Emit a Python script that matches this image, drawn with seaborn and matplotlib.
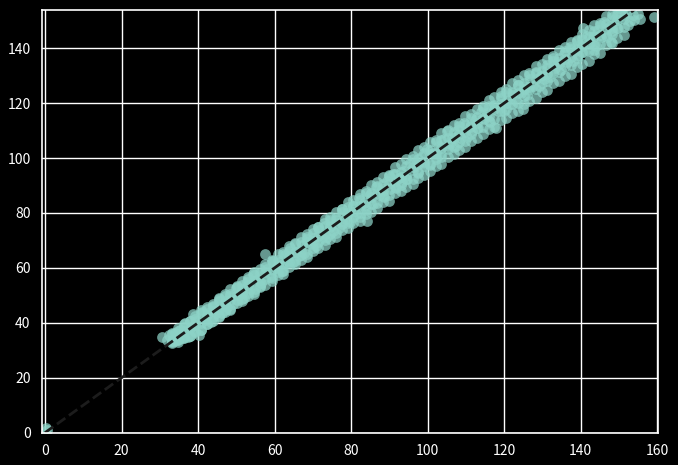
import matplotlib
matplotlib.use("Agg")
import matplotlib.pyplot as plt
import seaborn as sns
import pandas as pd

# actual vs predicted values (scattered points)
actual = [
    0.3, 0.6,
    30.6, 31.8, 32.5, 33.1, 33.9, 34.6, 35.2, 36.0, 36.7, 37.5, 38.2, 38.7,
    39.4, 40.3, 41.0, 41.8, 42.5, 43.3, 44.0, 44.8, 45.5, 46.3, 47.0, 47.6,
    48.4, 49.1, 49.9, 50.6, 51.4, 52.1, 52.9, 53.6, 54.4, 55.0, 55.8, 56.5,
    57.4, 58.1, 58.9, 59.6, 60.4, 61.1, 61.9, 62.6, 63.3, 64.1, 64.8, 65.6,
    66.3, 67.1, 67.8, 68.6, 69.3, 70.1, 70.8, 71.6, 72.3, 73.0, 73.8, 74.5,
    75.3, 76.0, 76.8, 77.5, 78.3, 79.0, 79.8, 80.5, 81.2, 82.0, 82.7, 83.5,
    84.2, 85.0, 85.7, 86.5, 87.2, 88.0, 88.7, 89.4, 90.2, 90.9, 91.7, 92.4,
    93.2, 93.9, 94.7, 95.4, 96.1, 96.9, 97.6, 98.4, 99.1, 99.9, 100.6, 101.4,
    102.1, 102.9, 103.6, 104.3, 105.0, 105.8, 106.5, 107.3, 108.0, 108.8,
    109.5, 110.3, 111.0, 111.7, 112.5, 113.2, 114.0, 114.7, 115.5, 116.2,
    117.0, 117.9, 118.5, 119.2, 120.0, 120.7, 121.5, 122.2, 123.0, 123.7,
    124.4, 124.9, 125.2, 126.0, 126.7, 127.5, 128.2, 129.0, 129.7, 130.5,
    131.2, 131.9, 132.7, 133.4, 134.2, 134.9, 135.7, 136.4, 137.2, 137.9,
    138.6, 139.4, 140.1, 140.5, 140.9, 141.6, 142.4, 143.1, 143.6, 143.9,
    144.6, 145.4, 146.1, 146.8, 147.6, 147.8, 148.3, 149.1, 149.8, 150.6,
    151.3, 152.1, 152.5, 152.8, 153.6, 154.0, 155.0, 155.6, 159.2,
]
predicted = [
    1.6, 0.8,
    34.7, 33.8, 35.7, 33.4, 36.3, 33.8, 37.3, 34.6, 40.0, 34.8, 38.5, 43.3,
    40.8, 35.7, 43.8, 41.2, 43.4, 40.3, 46.1, 43.4, 48.8, 43.6, 47.3, 45.7,
    49.8, 46.8, 52.7, 50.0, 52.3, 49.1, 55.0, 52.2, 57.7, 52.3, 56.1, 54.6,
    65.2, 59.5, 56.6, 62.4, 59.8, 62.0, 58.9, 64.7, 61.9, 67.4, 62.1, 65.9,
    64.4, 68.5, 65.5, 71.4, 68.7, 71.0, 67.8, 73.7, 70.9, 76.3, 71.1, 74.8,
    73.4, 77.4, 74.5, 80.3, 77.7, 79.9, 76.8, 82.6, 79.8, 85.3, 80.0, 83.8,
    77.2, 86.4, 83.4, 89.3, 86.6, 88.9, 85.7, 91.5, 88.8, 94.2, 89.0, 92.7,
    91.3, 95.3, 92.4, 98.2, 95.5, 97.8, 94.6, 100.5, 97.7, 103.2, 97.9, 101.7,
    100.2, 104.3, 101.3, 107.1, 109.7, 105.2, 107.4, 104.3, 110.1, 107.4,
    112.8, 107.6, 111.3, 109.8, 113.9, 110.9, 116.8, 114.1, 116.4, 113.2,
    119.1, 111.1, 117.1, 122.5, 117.3, 121.0, 119.6, 123.6, 120.7, 126.5,
    123.8, 118.0, 126.1, 123.0, 128.8, 126.1, 131.5, 126.3, 130.0, 128.6,
    132.6, 129.6, 135.5, 132.8, 135.1, 131.9, 137.8, 135.0, 140.5, 135.2,
    138.9, 137.5, 141.5, 147.5, 138.6, 144.4, 141.8, 144.0, 139.2, 140.9,
    146.7, 144.0, 149.4, 144.1, 147.9, 142.1, 146.4, 150.5, 147.5, 153.4,
    150.7, 153.0, 148.6, 149.8, 152.2, 150.2, 152.5, 150.8, 151.2,
]

# dense part of the band: one x list, five predicted rows from top to bottom
core_actual = [
    33.2, 34.7, 36.3, 37.8, 39.2, 40.9, 42.4, 43.8, 45.5, 47.0, 48.4, 50.1,
    51.6, 53.0, 54.7, 56.2, 57.6, 59.3, 60.8, 62.2, 63.9, 65.4, 66.8, 68.5,
    70.0, 71.4, 73.1, 74.6, 76.0, 77.7, 79.2, 80.6, 82.3, 83.8, 85.2, 86.9,
    88.4, 89.8, 91.5, 93.0, 94.4, 96.1, 97.6, 99.0, 100.7, 102.2, 103.6, 105.3,
    106.8, 108.2, 109.9, 111.4, 112.8, 114.5, 116.0, 117.4, 119.1, 120.6, 122.0, 123.7,
    125.2, 126.6, 128.3, 129.8, 131.2, 132.9, 134.4, 135.8, 137.5, 139.0, 140.4, 142.1,
    143.6, 145.0, 146.7, 148.2, 149.6, 151.3,
]
outer_upper = [
    36.3, 37.2, 39.7, 40.7, 42.4, 43.5, 45.9, 46.9, 49.0, 49.8, 52.2, 53.3,
    55.2, 55.9, 58.6, 59.7, 61.5, 62.5, 64.9, 65.8, 67.9, 68.7, 71.1, 72.4,
    74.3, 75.0, 77.7, 78.6, 80.4, 81.4, 83.9, 84.9, 87.0, 87.9, 90.2, 91.4,
    93.2, 94.0, 96.6, 97.8, 99.5, 100.6, 103.0, 103.9, 105.9, 106.7, 109.0, 110.3,
    112.0, 112.7, 115.3, 116.2, 117.9, 118.8, 121.2, 122.2, 124.2, 125.0, 127.2, 128.3,
    130.1, 130.8, 133.4, 134.4, 136.1, 137.1, 139.5, 140.3, 142.2, 143.0, 145.3, 146.6,
    148.4, 149.1, 151.7, 152.6, 154.3, 155.3,
]
core_upper = [
    35.8, 38.1, 38.3, 40.8, 41.5, 44.6, 45.2, 45.7, 48.1, 50.4, 50.4, 53.1,
    53.9, 56.7, 57.5, 58.1, 60.2, 62.7, 62.8, 65.2, 66.2, 69.1, 69.6, 70.4,
    72.6, 74.8, 75.1, 77.6, 78.3, 81.4, 82.0, 82.5, 84.9, 87.2, 87.2, 89.9,
    90.7, 93.5, 94.3, 94.9, 97.0, 99.5, 99.6, 102.0, 103.0, 105.9, 106.4, 107.2,
    109.4, 111.6, 111.9, 114.4, 115.1, 118.2, 118.8, 119.3, 121.7, 124.0, 124.0, 126.7,
    127.5, 130.3, 131.1, 131.7, 133.8, 136.3, 136.4, 138.8, 139.8, 142.7, 143.2, 144.0,
    146.2, 148.4, 148.7, 151.2, 151.9, 155.0,
]
core_mid = [
    33.6, 34.2, 37.2, 37.6, 39.3, 40.1, 43.0, 44.2, 45.0, 47.9, 48.2, 50.2,
    50.8, 53.6, 55.1, 55.7, 58.5, 59.1, 60.9, 61.4, 64.5, 65.8, 66.3, 69.4,
    69.8, 71.5, 72.3, 75.2, 76.4, 77.2, 80.1, 80.4, 82.4, 83.0, 85.8, 87.3,
    87.9, 90.7, 91.3, 93.1, 93.6, 96.7, 98.0, 98.5, 101.6, 102.0, 103.7, 104.5,
    107.4, 108.6, 109.4, 112.3, 112.6, 114.6, 115.2, 118.0, 119.5, 120.1, 122.9, 123.5,
    125.3, 125.8, 128.9, 130.2, 130.7, 133.8, 134.2, 135.9, 136.7, 139.6, 140.8, 141.6,
    144.5, 144.8, 146.8, 147.4, 150.2, 151.7,
]
core_lower = [
    33.0, 33.6, 34.4, 35.3, 37.0, 37.3, 39.7, 42.0, 42.4, 44.6, 45.1, 48.2,
    48.7, 50.8, 51.1, 53.5, 55.8, 56.2, 58.4, 58.9, 62.0, 62.5, 64.6, 64.9,
    67.3, 69.6, 70.0, 72.2, 72.7, 75.8, 76.3, 78.4, 78.7, 81.1, 83.4, 83.8,
    86.0, 86.5, 89.6, 90.1, 92.2, 92.5, 94.9, 97.2, 97.6, 99.8, 100.3, 103.4,
    103.9, 106.0, 106.3, 108.7, 111.0, 111.4, 113.6, 114.1, 117.2, 117.7, 119.8, 120.1,
    122.5, 124.8, 125.2, 127.4, 127.9, 131.0, 131.5, 133.6, 133.9, 136.3, 138.6, 139.0,
    141.2, 141.7, 144.8, 145.3, 147.4, 147.7,
]
outer_lower = [
    32.6, 32.9, 34.9, 35.3, 36.6, 37.4, 39.7, 40.6, 42.0, 44.0, 44.6, 47.2,
    48.0, 49.7, 50.6, 53.0, 53.9, 55.2, 57.3, 57.9, 60.4, 61.3, 63.0, 63.9,
    66.2, 67.2, 68.5, 70.6, 71.2, 73.8, 74.6, 76.3, 77.2, 79.5, 80.5, 81.8,
    83.9, 84.5, 87.1, 87.9, 89.6, 90.5, 92.9, 93.8, 95.2, 97.2, 97.9, 100.4,
    101.3, 102.9, 103.9, 106.3, 107.2, 108.6, 110.6, 111.3, 113.8, 114.7, 116.4, 117.3,
    119.7, 120.6, 122.0, 124.1, 124.7, 127.3, 128.1, 129.8, 130.7, 133.1, 134.1, 135.5,
    137.7, 138.4, 141.1, 142.0, 143.8, 144.8,
]

df = pd.DataFrame({
    "actual": actual + core_actual * 5,
    "predicted": predicted + outer_upper + core_upper + core_mid
                 + core_lower + outer_lower,
})

plt.style.use("dark_background")
plt.rcParams["font.family"] = ["Noto Sans CJK SC", "DejaVu Sans"]
plt.rcParams["axes.unicode_minus"] = False

fig = plt.figure(figsize=(6.78, 4.65), dpi=100)
ax = fig.add_axes([0.0615, 0.0695, 0.9095, 0.909])

sns.scatterplot(data=df, x="actual", y="predicted", color="#8dd3c7",
                s=60, alpha=0.72, linewidth=0, ax=ax)

# perfect-prediction reference line
ax.plot([0, 160.3], [0, 160.3], linestyle="--", color="#1c1c1c", lw=2)

ax.set_xlim(-0.86, 160.3)
ax.set_ylim(0, 153.9)
ax.set_xticks([0, 20, 40, 60, 80, 100, 120, 140, 160])
ax.set_yticks([0, 20, 40, 60, 80, 100, 120, 140])
ax.set_xlabel("")
ax.set_ylabel("")
ax.grid(True, color="white", linewidth=1.0)
ax.set_axisbelow(True)
ax.tick_params(length=0, labelsize=10, colors="white", pad=8)
for sp in ax.spines.values():
    sp.set_color("white")
    sp.set_linewidth(1.2)

fig.savefig("out.png", dpi=100)
